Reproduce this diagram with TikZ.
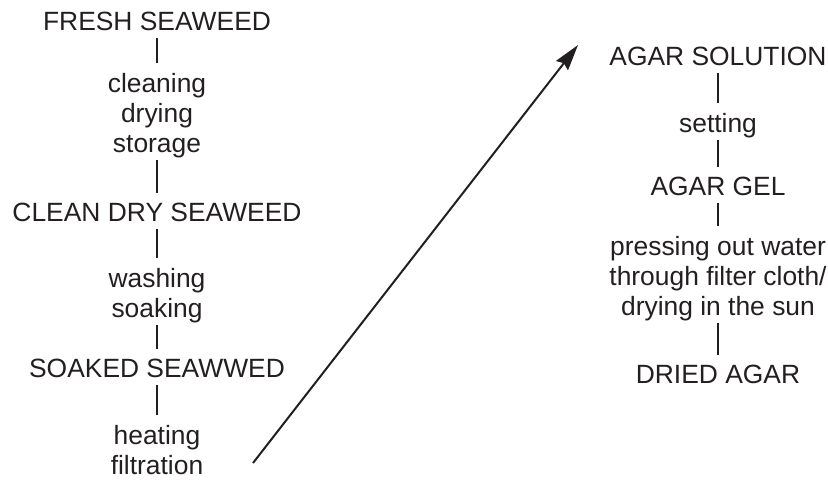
\documentclass[tikz,border=0pt]{standalone}
\usepackage{fontspec}
\setmainfont{Liberation Sans}
\usetikzlibrary{arrows.meta}
\definecolor{ink}{HTML}{231F20}

\begin{document}
\begin{tikzpicture}[x=0.5pt,y=-0.5pt,
    txt/.style={inner xsep=2pt,inner ysep=0pt,align=center,anchor=north,text=ink,
      font=\fontsize{13.2pt}{15pt}\selectfont,
      execute at end node={\rule[-3.5pt]{0pt}{3.5pt}}},
    link/.style={draw=ink,line width=1pt,shorten >=5pt}]
        \useasboundingbox (0,0) rectangle (828,479);
        % left column
        \node[txt] (fresh) at (157,12) {FRESH SEAWEED};
        \node[txt] (proc1) at (157,73) {cleaning\\drying\\storage};
        \node[txt] (clean) at (157,203) {CLEAN DRY SEAWEED};
        \node[txt] (proc2) at (157,268) {washing\\soaking};
        \node[txt] (soaked) at (157,359) {SOAKED SEAWWED};
        \node[txt] (proc3) at (157,425) {heating\\filtration};
        \draw[link] (fresh) -- (proc1);
        \draw[link] (proc1) -- (clean);
        \draw[link] (clean) -- (proc2);
        \draw[link] (proc2) -- (soaked);
        \draw[link] (soaked) -- (proc3);
        % right column
        \node[txt] (solution) at (718,47) {AGAR SOLUTION};
        \node[txt] (setting) at (718,113) {setting};
        \node[txt] (gel) at (718,177) {AGAR GEL};
        \node[txt] (press) at (718,236) {pressing out water\\through filter cloth/\\drying in the sun};
        \node[txt] (dried) at (718,365) {DRIED AGAR};
        \draw[link] (solution) -- (setting);
        \draw[link] (setting) -- (gel);
        \draw[link] (gel) -- (press);
        \draw[link] (press) -- (dried);
        % long arrow
        \coordinate (tail) at (253,463);
        \coordinate (head) at (578,45);
        \draw[line width=1pt,draw=ink,-{Stealth[length=13pt,width=7.5pt,inset=1.5pt]}] (tail) -- (head);
\end{tikzpicture}
\end{document}
